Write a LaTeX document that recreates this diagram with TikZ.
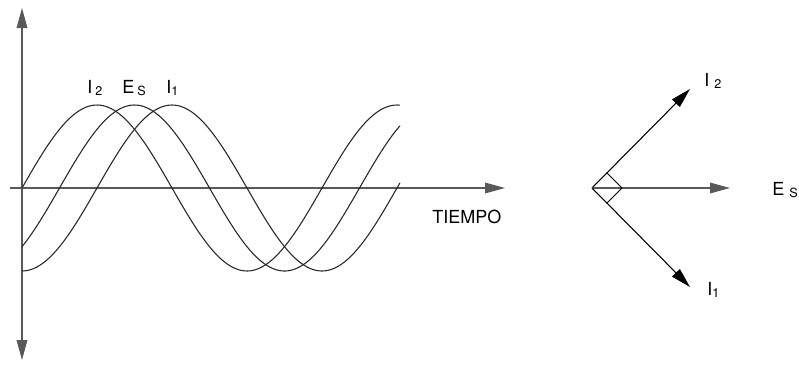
\documentclass[tikz,border=0pt]{standalone}
\usepackage{fontspec}
\setmainfont{TeX Gyre Heros}
\usetikzlibrary{arrows.meta}

\tikzset{
  axis/.style={draw=black!65, line width=0.9pt},
  wave/.style={draw=black!85, line width=0.8pt, domain=22:400, samples=150, smooth},
  phasor/.style={draw=black, line width=0.8pt, -{Triangle[length=15pt,width=8pt]}},
  lbl/.style={font=\fontsize{13.5}{15}\selectfont, inner sep=0pt, anchor=base west},
}

\begin{document}
\begin{tikzpicture}[x=0.75pt, y=-0.75pt]
			\useasboundingbox (0,0) rectangle (799,368);

			% Define axis end points
			\coordinate (top) at (22,8);
			\coordinate (bottom) at (22,360);
			\coordinate (start) at (10,188);
			\coordinate (end) at (505,188);

			% Draw axes
			\draw[axis, {Triangle[length=15pt,width=8pt]}-{Triangle[length=15pt,width=8pt]}] (top) -- (bottom);
			\draw[axis, -{Triangle[length=15pt,width=8pt]}] (start) -- (end);
			\node[lbl] (tiempo) at (432,223) {TIEMPO};

			% Draw the three waves (period 300, 1.2 degrees per unit)
			\draw[wave] plot (\x, {188-83*sin(1.2*(\x-22))});
			\draw[wave] plot (\x, {188-83*sin(1.2*(\x-22)-45)});
			\draw[wave] plot (\x, {188-83*sin(1.2*(\x-22)-90)});

			% Wave labels
			\node[lbl] (i2) at (87,93) {I\,\textsubscript{2}};
			\node[lbl] (es) at (122,93) {E\,\textsubscript{S}};
			\node[lbl] (i1) at (166,93) {I\textsubscript{1}};

			% Define phasor nodes
			\coordinate (O) at (592,188);
			\coordinate (P2) at (690,89);
			\coordinate (PS) at (730,188);
			\coordinate (P1) at (690,287);
			\coordinate (m2) at (607,173);
			\coordinate (mS) at (622,188);
			\coordinate (m1) at (607,203);

			% Draw phasors
			\draw[phasor] (O) -- (P2);
			\draw[phasor, draw=black!65] (O) -- (PS);
			\draw[phasor] (O) -- (P1);
			\draw[line width=0.7pt] (m2) -- (mS) -- (m1);

			% Phasor labels
			\node[lbl] (li2) at (704,86) {I\;\textsubscript{2}};
			\node[lbl] (les) at (772,195) {E\;\textsubscript{S}};
			\node[lbl] (li1) at (707,295) {I\textsubscript{1}};

		\end{tikzpicture}
\end{document}
